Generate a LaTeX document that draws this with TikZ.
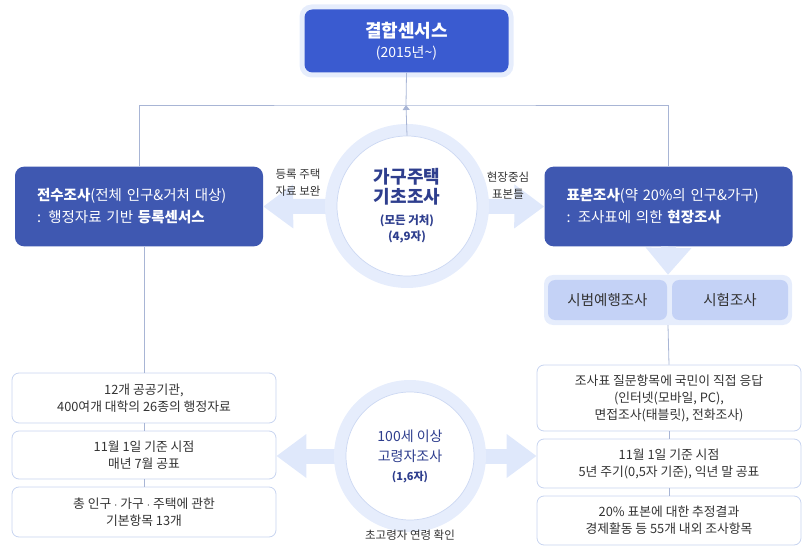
\documentclass[tikz,border=0pt]{standalone}
\usepackage{fontspec}
\setmainfont{Noto Sans CJK KR}
\usepackage{xcolor}
\usetikzlibrary{arrows.meta, positioning, calc}

\definecolor{topblue}{HTML}{3A5BD0}
\definecolor{mainblue}{HTML}{3F58B1}
\definecolor{haloblue}{HTML}{E6EDFC}
\definecolor{fatblue}{HTML}{DFE8FB}
\definecolor{linkgray}{HTML}{A8B5D5}
\definecolor{listline}{HTML}{C8D4F0}
\definecolor{ringline}{HTML}{CCD8F3}
\definecolor{subfill}{HTML}{C4D2F6}
\definecolor{circtext}{HTML}{2E3E8E}
\definecolor{bodytext}{HTML}{333333}

\tikzset{
  halobox/.style={rounded corners=12pt, fill=haloblue, inner sep=0pt},
  topbox/.style={rounded corners=8pt, fill=topblue, text=white, align=center,
    minimum width=204pt, minimum height=63pt, inner sep=0pt,
    font=\fontsize{18}{21}\selectfont},
  mainbox/.style={rounded corners=9pt, fill=mainblue, text=white, align=left,
    text width=204pt, minimum height=77pt, inner sep=22pt,
    font=\fontsize{14.5}{22}\selectfont},
  halocirc/.style={circle, fill=haloblue, inner sep=0pt},
  surveycirc/.style={circle, fill=white, draw=ringline, line width=0.7pt,
    inner sep=0pt, align=center, text=circtext},
  subbox/.style={rounded corners=7pt, fill=subfill, text=bodytext,
    minimum height=40pt, inner sep=0pt, font=\fontsize{14.5}{16}\selectfont},
  listbox/.style={rounded corners=7pt, draw=listline, line width=0.8pt, fill=white,
    text=bodytext, align=center, minimum width=264pt, inner sep=0pt,
    font=\fontsize{12.8}{17}\selectfont},
  sidelabel/.style={text=bodytext, align=center, font=\fontsize{11.5}{17}\selectfont},
  link/.style={draw=linkgray, line width=0.8pt},
  fatarrow/.style={draw=fatblue, line width=15pt,
    -{Triangle[length=30pt, width=42pt]}},
}

\begin{document}
\begin{tikzpicture}[x=1pt, y=-1pt]
  \useasboundingbox (0,0) rectangle (811,553);

  % ----- Top: combined census -----
  \node[halobox, minimum width=214pt, minimum height=73pt] (tophalo) at (406.5,41) {};
  \node[topbox] (top) at (406.5,41)
    {\bfseries 결합센서스\\[-1pt]
     {\fontsize{14}{15}\selectfont (2015년\textasciitilde)}};

  % ----- Main surveys -----
  \node[mainbox] (full) at (139,206.5)
    {\textbf{전수조사}(전체 인구\&거처 대상)\\: 행정자료 기반 \textbf{등록센서스}};
  \node[mainbox] (sample) at (668.5,206.5)
    {\textbf{표본조사}(약 20\%의 인구\&가구)\\: 조사표에 의한 \textbf{현장조사}};

  % ----- Connectors to the top box -----
  \coordinate (jn) at (406,105);
  \draw[link] (full.north) |- (jn) -| (sample.north);
  \draw[link] (top.south) -- (jn);

  % ----- Housing census circle -----
  \coordinate (hc) at (407,206);
  \draw[fatarrow] (hc) -- (full.east);
  \draw[fatarrow] (hc) -- (sample.west);
  \node[halocirc, minimum size=164pt] (househalo) at (hc) {};
  \node[surveycirc, minimum size=140pt, font=\fontsize{18}{20}\selectfont] (house) at (hc)
    {\bfseries 가구주택\\
     \bfseries 기초조사\\[1pt]
     {\fontsize{11.5}{14}\selectfont\bfseries (모든 거처)}\\[-4pt]
     {\fontsize{11.5}{14}\selectfont\bfseries (4,9자)}};
  \draw[link, -{Triangle[length=5pt, width=7pt]}, draw=linkgray] (house.north) -- (jn);

  \node[sidelabel] (regnote) at (298,183) {등록 주택\\자료 보완};
  \node[sidelabel] (framenote) at (508,186) {현장중심\\표본틀};

  % ----- Pilot surveys -----
  \node[halobox, rounded corners=9pt, minimum width=248pt, minimum height=50pt] (pilot) at (668,300) {};
  \draw[fatarrow, -{Triangle[length=27pt, width=44pt]}] (sample.south) -- (pilot.north);
  \node[subbox, minimum width=119pt] (rehearsal) at (607.5,300) {시범예행조사};
  \node[subbox, minimum width=116pt] (trial) at (730,300) {시험조사};

  % ----- Register census details (left) -----
  \node[listbox, minimum height=50pt] (reg1) at (144,398)
    {12개 공공기관,\\400여개 대학의 26종의 행정자료};
  \node[listbox, minimum height=48pt] (reg2) at (144,455)
    {11월 1일 기준 시점\\매년 7월 공표};
  \node[listbox, minimum height=50pt] (reg3) at (144,512)
    {총 인구 $\cdot$ 가구 $\cdot$ 주택에 관한\\기본항목 13개};
  \draw[link] (reg1.north |- full.south) -- (reg1.north);
  \draw[link] (reg1.south) -- (reg2.north);
  \draw[link] (reg2.south) -- (reg3.north);

  % ----- Sample census details (right) -----
  \node[listbox, minimum height=66pt] (smp1) at (669,398)
    {조사표 질문항목에 국민이 직접 응답\\(인터넷(모바일, PC),\\면접조사(태블릿), 전화조사)};
  \node[listbox, minimum height=49pt] (smp2) at (669,463.5)
    {11월 1일 기준 시점\\5년 주기(0,5자 기준), 익년 말 공표};
  \node[listbox, minimum height=49pt] (smp3) at (669,520.5)
    {20\% 표본에 대한 추정결과\\경제활동 등 55개 내외 조사항목};
  \draw[link] (pilot.south) -- (smp1.north);
  \draw[link] (smp1.south) -- (smp2.north);
  \draw[link] (smp2.south) -- (smp3.north);

  % ----- Centenarian survey circle -----
  \coordinate (oc) at (410,456);
  \draw[fatarrow] (oc) -- (oc -| reg2.east);
  \draw[fatarrow] (oc) -- (oc -| smp2.west);
  \node[halocirc, minimum size=152pt] (oldhalo) at (oc) {};
  \node[surveycirc, minimum size=128pt, font=\fontsize{14}{20}\selectfont] (old) at (oc)
    {100세 이상\\
     고령자조사\\[-1pt]
     {\fontsize{11}{14}\selectfont\bfseries (1,6자)}};
  \node[sidelabel] (agenote) at (410,535) {초고령자 연령 확인};

\end{tikzpicture}
\end{document}
